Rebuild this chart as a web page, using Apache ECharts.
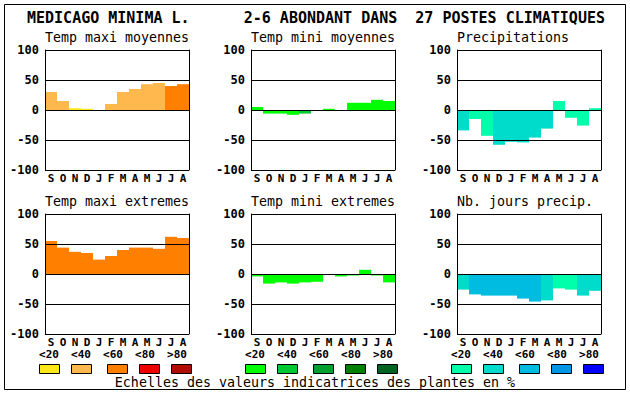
<!DOCTYPE html>
<html>
<head>
<meta charset="utf-8">
<script src="https://cdn.jsdelivr.net/npm/echarts@6/dist/echarts.min.js"></script>
<style>html,body{margin:0;padding:0;background:#fff}#c{width:630px;height:394px}</style>
</head>
<body>
<div id="c"></div>
<script>
// ---- data ----
const months = ['S','O','N','D','J','F','M','A','M','J','J','A'];
const yTicks = [-100, -50, 0, 50, 100];
const classLabels = ['<20','<40','<60','<80','>80'];
const mainTitle = 'MEDICAGO MINIMA L.      2-6 ABONDANT DANS  27 POSTES CLIMATIQUES';
const footer = 'Echelles des valeurs indicatrices des plantes en %';

const panelTitles = ['Temp maxi moyennes','Temp mini moyennes','Precipitations',
                     'Temp maxi extremes','Temp mini extremes','Nb. jours precip.'];

const tempMaxiMoy   = [30, 15, 3, 2, 0, 10, 30, 35, 43, 45, 40, 43];
const tempMaxiMoyCl = [1, 1, 0, 0, 0, 1, 1, 1, 1, 1, 2, 2];
const tempMiniMoy   = [5, -6, -6, -8, -6, 0, 2, 0, 12, 12, 17, 15];
const tempMiniMoyCl = [0, 0, 0, 0, 1, 0, 0, 0, 0, 0, 0, 0];
const precip        = [-34, -15, -43, -58, -53, -54, -46, -31, 15, -13, -26, 3];
const precipCl      = [1, 0, 0, 1, 1, 1, 1, 1, 0, 0, 0, 0];
const tempMaxiExt   = [55, 44, 37, 35, 24, 30, 40, 44, 44, 42, 62, 60];
const tempMaxiExtCl = [2, 2, 2, 2, 2, 2, 2, 2, 2, 2, 2, 2];
const tempMiniExt   = [-4, -16, -14, -16, -14, -13, 0, -4, -2.5, 7, -2.5, -14];
const tempMiniExtCl = [0, 0, 0, 0, 0, 0, 0, 0, 0, 0, 0, 0];
const nbJours       = [-26, -34, -36, -36, -36, -41, -46, -44, -24, -26, -36, -28];
const nbJoursCl     = [1, 2, 2, 2, 2, 2, 2, 1, 0, 0, 1, 1];

const oranges = ['#ffe81a','#ffb84d','#ff8000','#ee0000','#b00c00'];
const greens  = ['#00ff00','#00c832','#00a030','#008000','#006420'];
const blues   = ['#00ffaa','#00dccc','#00bce0','#0096e6','#0000ff'];

// ---- layout ----
const MONO = 'DejaVu Sans Mono';
const colLeft = [45, 251, 457];
const rowTop = [50, 214];
const PW = 144, PH = 120;

const panels = [
  {v: tempMaxiMoy, c: tempMaxiMoyCl, pal: oranges},
  {v: tempMiniMoy, c: tempMiniMoyCl, pal: greens},
  {v: precip,      c: precipCl,      pal: blues},
  {v: tempMaxiExt, c: tempMaxiExtCl, pal: oranges},
  {v: tempMiniExt, c: tempMiniExtCl, pal: greens},
  {v: nbJours,     c: nbJoursCl,     pal: blues}
];
const palettes = [oranges, greens, blues];

const grid = [], xAxis = [], yAxis = [], series = [], graphic = [];

panels.forEach((p, i) => {
  const col = i % 3, row = Math.floor(i / 3);
  grid.push({left: colLeft[col], top: rowTop[row], width: PW, height: PH,
             show: false, containLabel: false});
  xAxis.push({type: 'category', gridIndex: i, data: months,
    axisTick: {show: false}, axisLine: {show: false},
    axisLabel: {interval: 0, color: '#000', fontFamily: MONO, fontWeight: 'bold', fontSize: 11, margin: 3}});
  yAxis.push({type: 'value', gridIndex: i, min: yTicks[0], max: yTicks[yTicks.length-1], interval: 50, z: 10,
    axisTick: {show: false},
    axisLine: {show: true, lineStyle: {color: '#000', width: 1}},
    splitLine: {show: true, lineStyle: {color: '#000', width: 1}},
    axisLabel: {color: '#000', fontFamily: MONO, fontWeight: 'bold', fontSize: 12, margin: 6}});
  yAxis.push({type: 'value', gridIndex: i, position: 'right', min: -100, max: 100, interval: 50, z: 10,
    axisTick: {show: false}, axisLabel: {show: false}, splitLine: {show: false},
    axisLine: {show: true, onZero: false, lineStyle: {color: '#000', width: 1}}});
  series.push({type: 'bar', xAxisIndex: i, yAxisIndex: 2 * i, barWidth: '100%', barCategoryGap: 0,
    silent: true, animation: false,
    data: p.v.map((v, k) => ({value: v, itemStyle: {color: p.pal[p.c[k]]}}))});
  graphic.push({type: 'text', left: colLeft[col], top: rowTop[row] - 19,
    style: {text: panelTitles[i], font: '13.3px "' + MONO + '"', fill: '#000'}});
});

// legend keys under each column
palettes.forEach((pal, col) => {
  const L = colLeft[col];
  const lblOff = [4, 36, 68, 100, 132];
  const swOff = [-6, 26, 62, 94, 126];
  classLabels.forEach((t, k) => {
    graphic.push({type: 'text', x: L + lblOff[k], y: 354,
      style: {text: t, font: 'bold 11px "' + MONO + '"', fill: '#000', align: 'center', verticalAlign: 'middle'}});
    graphic.push({type: 'rect', shape: {x: L + swOff[k] + 0.5, y: 364.5, width: 20, height: 9},
      style: {fill: pal[k], stroke: '#000', lineWidth: 1}});
  });
});

graphic.push({type: 'text', x: 27, y: 18,
  style: {text: mainTitle, font: 'bold 15px "' + MONO + '"', fill: '#000', verticalAlign: 'middle'}});
graphic.push({type: 'text', x: 315, y: 382.5,
  style: {text: footer, font: '13.3px "' + MONO + '"', fill: '#000', align: 'center', verticalAlign: 'middle'}});
graphic.push({type: 'rect', shape: {x: 4.5, y: 4.5, width: 621, height: 385},
  style: {fill: 'none', stroke: '#000', lineWidth: 1}, z: -1});

const chart = echarts.init(document.getElementById('c'), null, {renderer: 'svg'});
chart.setOption({animation: false, backgroundColor: '#fff', grid, xAxis, yAxis, series, graphic});
</script>
</body>
</html>
